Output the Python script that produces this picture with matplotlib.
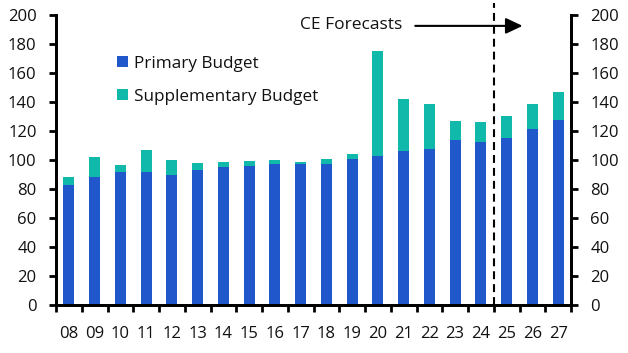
import matplotlib
matplotlib.use("Agg")
import matplotlib.pyplot as plt
import numpy as np

years = ["08", "09", "10", "11", "12", "13", "14", "15", "16", "17",
         "18", "19", "20", "21", "22", "23", "24", "25", "26", "27"]
primary = [83, 88.5, 92, 92, 90, 93, 95, 96, 97, 97.5,
           97.5, 101, 102.5, 106.5, 107.5, 114, 112.5, 115.5, 121.5, 127.5]
total = [88, 102, 96.5, 107, 100, 98, 98.5, 99.5, 100, 98.8,
         100.8, 104, 175, 142, 138.7, 127, 126.3, 130.5, 138.7, 147]
supplementary = [t - p for t, p in zip(total, primary)]

blue = "#2058cc"
teal = "#10b9a9"

plt.rcParams['font.family'] = ['Open Sans', 'DejaVu Sans']
plt.rcParams['font.size'] = 12
plt.rcParams['text.color'] = '#111111'
plt.rcParams['xtick.color'] = '#111111'
plt.rcParams['ytick.color'] = '#111111'

fig = plt.figure(figsize=(6.28, 3.53), dpi=100)
ax = fig.add_axes([56 / 628, 48 / 353, 515 / 628, 290 / 353])

x = np.arange(len(years))
ax.bar(x, primary, width=0.43, color=blue, label="Primary Budget")
ax.bar(x, supplementary, width=0.43, bottom=primary, color=teal,
       label="Supplementary Budget")

ax.set_xlim(-0.5, len(years) - 0.5)
ax.set_ylim(0, 200)
ax.set_yticks(range(0, 201, 20))
ax.set_xticks(x)
ax.set_xticklabels(years)
ax.set_xticks(np.arange(-0.5, len(years), 1), minor=True)
ax.tick_params(axis='x', which='major', length=0, pad=15)
ax.tick_params(axis='x', which='minor', length=5, width=2, direction='out',
               color='black')
ax.tick_params(axis='y', length=5, width=2, direction='out', pad=9,
               color='black')

ax2 = ax.twinx()
ax2.set_ylim(0, 200)
ax2.set_yticks(range(0, 201, 20))
ax2.tick_params(axis='y', length=5, width=2, direction='out', pad=9,
                color='black')

for a in (ax, ax2):
    a.spines['top'].set_visible(False)
    for s in ('left', 'right', 'bottom'):
        a.spines[s].set_linewidth(2)

# forecast divider
ax.axvline(16.5, ymin=0, ymax=1.041, color="black", linestyle=(0, (3.8, 2.4)),
           linewidth=1.5, clip_on=False)
ax.annotate("", xy=(17.62, 192.5), xytext=(13.45, 192.5),
            arrowprops=dict(arrowstyle="-|>,head_length=0.85,head_width=0.4",
                            color="black", lw=1.5, shrinkA=0, shrinkB=0),
            annotation_clip=False)
ax.text(12.95, 193, "CE Forecasts", ha="right", va="center", fontsize=12.5)

ax.legend(loc="upper left", bbox_to_anchor=(0.1187, 0.86), frameon=False,
          borderaxespad=0, borderpad=0,
          handlelength=0.66, handleheight=0.66, handletextpad=0.35,
          labelspacing=0.99, fontsize=12.3)

fig.savefig("out.png", dpi=100)
